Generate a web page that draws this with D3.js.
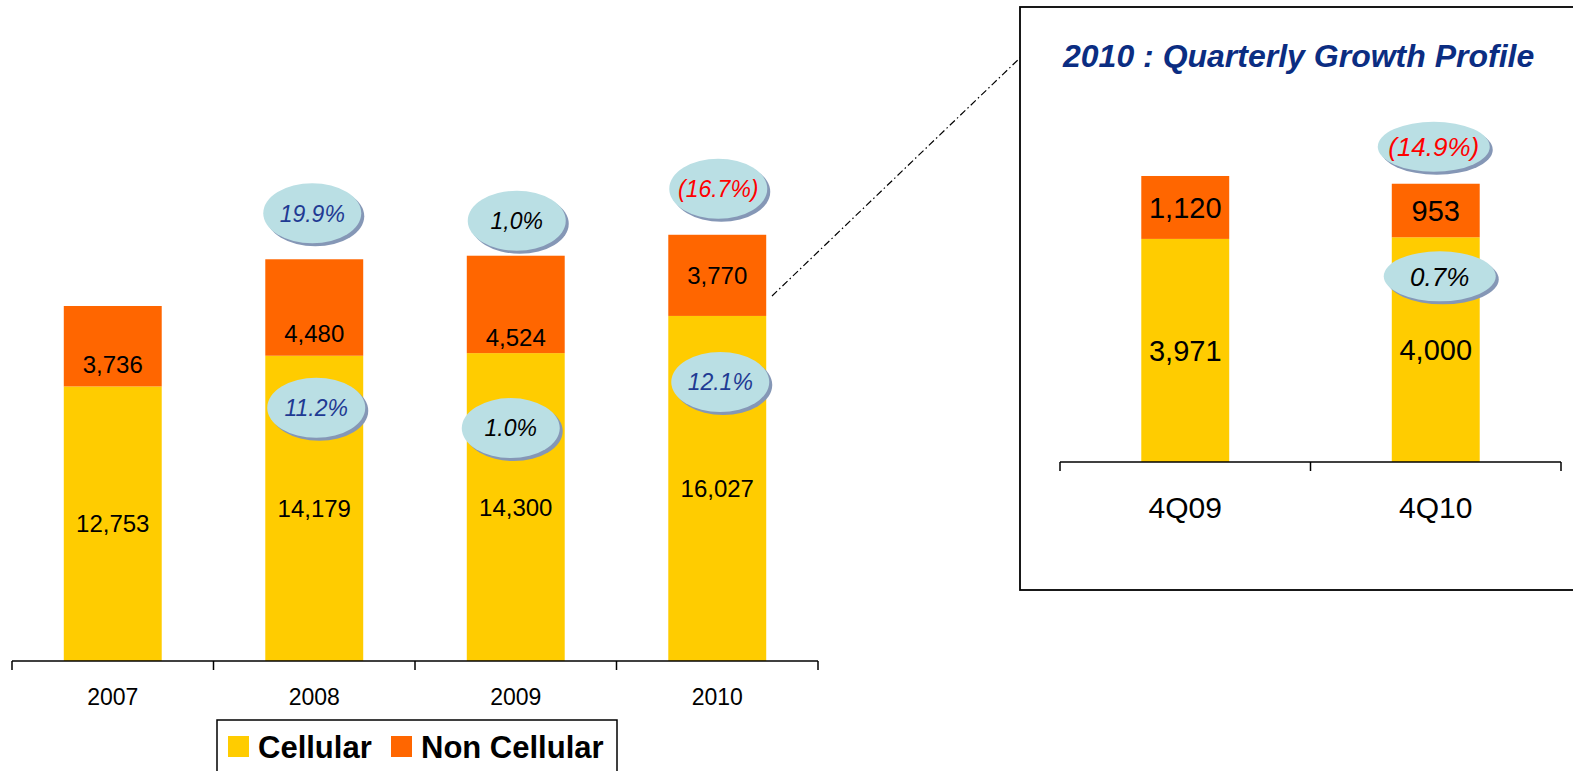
<!DOCTYPE html>
<html>
<head>
<meta charset="utf-8">
<script src="https://cdn.jsdelivr.net/npm/d3@7"></script>
<style>
  html, body { margin: 0; padding: 0; background: #fff; }
  svg { display: block; font-family: "Liberation Sans", Arial, sans-serif; }
</style>
</head>
<body>
<svg id="chart" width="1573" height="771"></svg>
<script>
// ---------- DATA ----------
const years = ["2007", "2008", "2009", "2010"];
const cellular = [12753, 14179, 14300, 16027];
const nonCellular = [3736, 4480, 4524, 3770];
const totalGrowth = [null, "19.9%", "1,0%", "(16.7%)"];
const cellularGrowth = [null, "11.2%", "1.0%", "12.1%"];
const totalGrowthTone = [null, "blue", "black", "red"];
const cellularGrowthTone = [null, "blue", "black", "blue"];

const quarters = ["4Q09", "4Q10"];
const qCellular = [3971, 4000];
const qNonCellular = [1120, 953];
const qTotalGrowth = [null, "(14.9%)"];
const qCellularGrowth = [null, "0.7%"];
const qTotalGrowthTone = [null, "red"];
const qCellularGrowthTone = [null, "black"];

const legendLabels = ["Cellular", "Non Cellular"];
const panelTitle = "2010 : Quarterly Growth Profile";

// ---------- STYLE / LAYOUT ----------
const YELLOW = "#FFCC00", ORANGE = "#FF6600";
const BUBBLE = "#BADFE4", BUBBLE_SHADOW = "#8597B6";
const TONES = { blue: "#1F3A93", black: "#000000", red: "#FF0000" };
const NAVY = "#0B2D82";

// label offsets (layout only)
const nonCellLabelShift = [18, 26, 33, 0];
const topBubbleShift = [[0, 0], [-2, -46], [1, -35], [1, -46]];
const cellBubbleShift = [[0, 0], [2, 52], [-5, 75], [3, 66]];
const qTopBubbleShift = [[0, 0], [-2, -37]];
const qCellBubbleShift = [[0, 0], [4, 39]];

const svg = d3.select("#chart");

function bubble(g, cx, cy, rx, ry, text, tone, fs) {
  g.append("ellipse").attr("cx", cx + 3).attr("cy", cy + 3).attr("rx", rx).attr("ry", ry)
    .attr("fill", BUBBLE_SHADOW);
  g.append("ellipse").attr("cx", cx).attr("cy", cy).attr("rx", rx).attr("ry", ry)
    .attr("fill", BUBBLE);
  g.append("text").attr("x", cx).attr("y", cy + fs * 0.36)
    .attr("text-anchor", "middle").attr("font-size", fs).attr("font-style", "italic")
    .attr("fill", TONES[tone]).text(text);
}

function bandAxis(g, x, yPos, tickLen) {
  const step = x.step();
  const r = x.range();
  g.append("line").attr("x1", r[0]).attr("x2", r[1]).attr("y1", yPos).attr("y2", yPos)
    .attr("stroke", "#000").attr("stroke-width", 1.5);
  const bounds = x.domain().map(d => x(d) - x.paddingOuter() * step);
  bounds.push(r[1]);
  bounds.forEach(b => {
    g.append("line").attr("x1", b).attr("x2", b).attr("y1", yPos).attr("y2", yPos + tickLen)
      .attr("stroke", "#000").attr("stroke-width", 1.5);
  });
}

// ---------- LEFT CHART ----------
const pL = 0.514;
const xL = d3.scaleBand().domain(years).range([12, 818]).paddingInner(pL).paddingOuter(pL / 2);
const yL = d3.scaleLinear().domain([0, 25000]).range([661, 661 - 0.02153 * 25000]);
const left = svg.append("g");

years.forEach((yr, i) => {
  const x0 = xL(yr), w = xL.bandwidth(), cx = x0 + w / 2;
  const yC = yL(cellular[i]);
  const yT = yL(cellular[i] + nonCellular[i]);
  left.append("rect").attr("x", x0).attr("y", yC).attr("width", w).attr("height", yL(0) - yC).attr("fill", YELLOW);
  left.append("rect").attr("x", x0).attr("y", yT).attr("width", w).attr("height", yC - yT).attr("fill", ORANGE);
  left.append("text").attr("x", cx).attr("y", (yC + yL(0)) / 2 + 8.5).attr("text-anchor", "middle")
    .attr("font-size", 24).text(d3.format(",")(cellular[i]));
  left.append("text").attr("x", cx).attr("y", (yT + yC) / 2 + 8.5 + nonCellLabelShift[i]).attr("text-anchor", "middle")
    .attr("font-size", 24).text(d3.format(",")(nonCellular[i]));
});

bandAxis(left, xL, 661, 9);
years.forEach(yr => {
  left.append("text").attr("x", xL(yr) + xL.bandwidth() / 2).attr("y", 705).attr("text-anchor", "middle")
    .attr("font-size", 23).text(yr);
});

years.forEach((yr, i) => {
  const cx = xL(yr) + xL.bandwidth() / 2;
  if (totalGrowth[i]) {
    const yT = yL(cellular[i] + nonCellular[i]);
    bubble(left, cx + topBubbleShift[i][0], yT + topBubbleShift[i][1], 49, 30, totalGrowth[i], totalGrowthTone[i], 23);
  }
  if (cellularGrowth[i]) {
    const yC = yL(cellular[i]);
    bubble(left, cx + cellBubbleShift[i][0], yC + cellBubbleShift[i][1], 49, 30, cellularGrowth[i], cellularGrowthTone[i], 23);
  }
});

// legend
const lg = svg.append("g");
lg.append("rect").attr("x", 217).attr("y", 720).attr("width", 400).attr("height", 60)
  .attr("fill", "#fff").attr("stroke", "#000").attr("stroke-width", 1.5);
const legendColors = [YELLOW, ORANGE];
const legendX = [228, 391];
legendLabels.forEach((lab, i) => {
  lg.append("rect").attr("x", legendX[i]).attr("y", 736).attr("width", 21).attr("height", 21).attr("fill", legendColors[i]);
  lg.append("text").attr("x", legendX[i] + 30).attr("y", 758).attr("font-size", 31).attr("font-weight", "bold").text(lab);
});

// ---------- CONNECTOR ----------
svg.append("line").attr("x1", 772).attr("y1", 296).attr("x2", 1022).attr("y2", 56)
  .attr("stroke", "#000").attr("stroke-width", 1.2).attr("stroke-dasharray", "7,3,1.5,3");

// ---------- RIGHT PANEL ----------
const right = svg.append("g");
right.append("rect").attr("x", 1020).attr("y", 7).attr("width", 600).attr("height", 583)
  .attr("fill", "#fff").attr("stroke", "#000").attr("stroke-width", 1.8);
right.append("text").attr("x", 1063).attr("y", 67).attr("font-size", 32).attr("font-weight", "bold")
  .attr("font-style", "italic").attr("fill", NAVY).text(panelTitle);

const pR = 0.649;
const xR = d3.scaleBand().domain(quarters).range([1060, 1561]).paddingInner(pR).paddingOuter(pR / 2);
const yR = d3.scaleLinear().domain([0, 6000]).range([462, 462 - 0.05618 * 6000]);

quarters.forEach((q, i) => {
  const x0 = xR(q), w = xR.bandwidth(), cx = x0 + w / 2;
  const yC = yR(qCellular[i]);
  const yT = yR(qCellular[i] + qNonCellular[i]);
  right.append("rect").attr("x", x0).attr("y", yC).attr("width", w).attr("height", yR(0) - yC).attr("fill", YELLOW);
  right.append("rect").attr("x", x0).attr("y", yT).attr("width", w).attr("height", yC - yT).attr("fill", ORANGE);
  right.append("text").attr("x", cx).attr("y", (yC + yR(0)) / 2 + 10.5).attr("text-anchor", "middle")
    .attr("font-size", 29).text(d3.format(",")(qCellular[i]));
  right.append("text").attr("x", cx).attr("y", (yT + yC) / 2 + 10.5).attr("text-anchor", "middle")
    .attr("font-size", 29).text(d3.format(",")(qNonCellular[i]));
});

bandAxis(right, xR, 462, 9);
quarters.forEach(q => {
  right.append("text").attr("x", xR(q) + xR.bandwidth() / 2).attr("y", 518).attr("text-anchor", "middle")
    .attr("font-size", 30).text(q);
});

quarters.forEach((q, i) => {
  const cx = xR(q) + xR.bandwidth() / 2;
  if (qTotalGrowth[i]) {
    const yT = yR(qCellular[i] + qNonCellular[i]);
    bubble(right, cx + qTopBubbleShift[i][0], yT + qTopBubbleShift[i][1], 56, 25, qTotalGrowth[i], qTotalGrowthTone[i], 26);
  }
  if (qCellularGrowth[i]) {
    const yC = yR(qCellular[i]);
    bubble(right, cx + qCellBubbleShift[i][0], yC + qCellBubbleShift[i][1], 56, 25, qCellularGrowth[i], qCellularGrowthTone[i], 26);
  }
});
</script>
</body>
</html>
